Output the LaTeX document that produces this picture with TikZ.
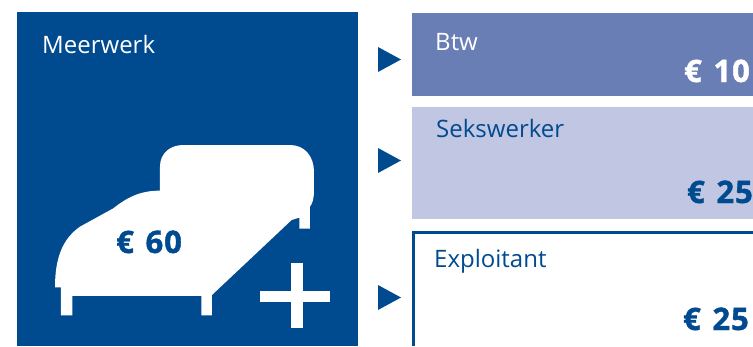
\documentclass[tikz,border=0pt]{standalone}
\usepackage{fontspec}
\setmainfont{Open Sans}
\newfontfamily\heavy[FakeBold=1.2,LetterSpace=3,WordSpace=1.3]{Open Sans Bold}
\definecolor{navy}{HTML}{004A90}
\definecolor{midb}{HTML}{6A7EB6}
\definecolor{lightb}{HTML}{C1C7E2}
\tikzset{
  lbl/.style={anchor=base west,inner sep=0pt,font=\fontsize{24}{26}\selectfont},
  amt/.style={anchor=base east,inner sep=0pt,font=\fontsize{31}{34}\heavy},
  tri/.style={fill=navy,draw=none}
}
\begin{document}
\begin{tikzpicture}[x=1pt,y=-1pt]
\useasboundingbox (0,0) rectangle (753,346);
\fill[navy] (17,12) rectangle (358,346);
\fill[midb] (412,13) rectangle (753,96);
\fill[lightb] (412,107) rectangle (753,219);
\draw[navy,line width=2.6pt] (413.5,346) -- (413.5,232.5) -- (753,232.5);
\foreach \y in {47,148,285} \fill[tri] (378,\y) -- (401,\y+12.5) -- (378,\y+25) -- cycle;
\node[lbl,white] (meer) at (42,53) {Meerwerk};
\node[lbl,white] (btw) at (435,50) {Btw};
\node[lbl,navy] (seks) at (436,137) {Sekswerker};
\node[lbl,navy] (expl) at (434,267) {Exploitant};
\node[amt,white] (a10) at (750,82) {€ 10};
\node[amt,navy] (a25a) at (753,203) {€ 25};
\node[amt,navy] (a25b) at (749,330) {€ 25};
\begin{scope}[shift={(40,130)},x=0.3333pt,y=-0.3333pt]
\fill[white] (45,472) .. controls (45,380) and (70,325) .. (120,290)
 -- (220,235) .. controls (270,195) and (310,182) .. (360,182)
 -- (360,110) .. controls (360,70) and (390,45) .. (430,45)
 -- (750,45) .. controls (795,45) and (822,80) .. (822,125)
 -- (822,180) .. controls (822,205) and (818,220) .. (810,230)
 -- (810,296) -- (778,296) -- (778,263) -- (755,270)
 -- (516,495) -- (516,556) -- (484,556) -- (484,498) -- (97,498) -- (97,556) -- (63,556) -- (63,472) -- cycle;
\fill[white] (753,399) rectangle (789,594);
\fill[white] (660,483) rectangle (870,516);
\end{scope}
\node[anchor=base west,inner sep=0pt,text=navy,font=\fontsize{31}{34}\heavy] (a60) at (116,253) {€ 60};
\end{tikzpicture}
\end{document}
